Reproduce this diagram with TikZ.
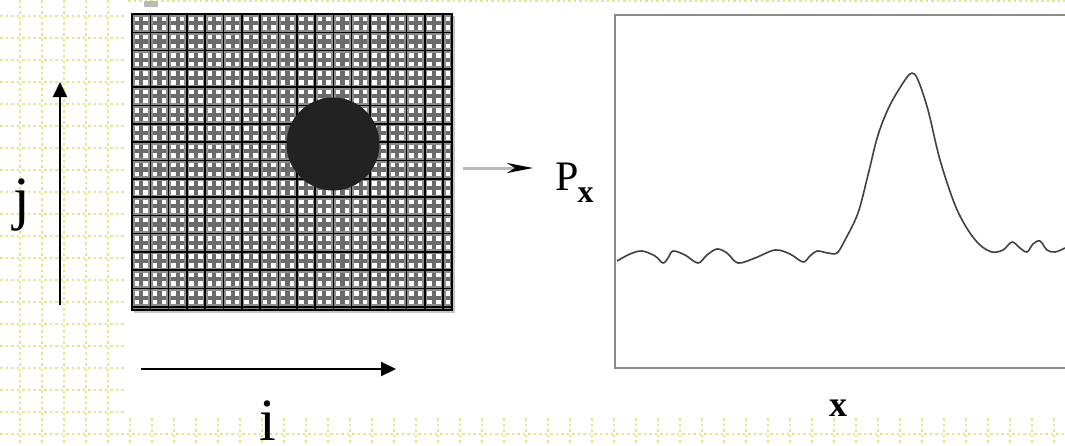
\documentclass[tikz,border=0pt]{standalone}
\usepackage{fontspec}
\setmainfont{Liberation Serif}
\usetikzlibrary{arrows.meta}
\definecolor{mDot}{HTML}{DCE98C}
\definecolor{mFrame}{HTML}{8C8C8C}
\definecolor{mBlob}{HTML}{222222}
\definecolor{mCurve}{HTML}{404040}
\newcommand{\bigletter}{\fontsize{60}{60}\selectfont}

\begin{document}
\begin{tikzpicture}[x=1pt, y=-1pt,
  dotline/.style={draw=mDot, line width=2.4pt, dash pattern=on 2.5pt off 3pt},
  axisarrow/.style={line width=2pt, -{Triangle[length=15pt, width=14pt]}},
  gridmid/.style={draw=black!58, line width=4.2pt},
  gridhalo/.style={draw=black!45, line width=5pt},
  gridline/.style={draw=black, line width=1.6pt}]
\useasboundingbox (0,0) rectangle (1065,445);

% dotted background
\foreach \x in {20,42,...,108} \draw[dotline] (\x,0) -- (\x,445);
\foreach \y in {16,38,...,412} \draw[dotline] (0,\y) -- (126,\y);
\draw[dotline] (0,434) -- (1065,434);
\draw[dotline] (128,0.8) -- (1065,0.8);
\foreach \x in {130,152,...,1064} \draw[dotline] (\x,418) -- (\x,445);

% scanned grid with the blob
\fill[gray!55, rounded corners=1pt] (144,1) rectangle (158,7);
\begin{scope}
\clip (132,14) rectangle (452,310);
\fill[white] (132,14) rectangle (452,310);
\foreach \k in {0,...,17} \draw[gridmid] ({141.15+18.3*\k},14) -- ++(0,296);
\foreach \k in {0,...,16} \draw[gridmid] (132,{23.15+18.3*\k}) -- ++(320,0);
\foreach \k in {0,...,17} \draw[gridhalo] ({132+18.3*\k},14) -- ++(0,296);
\foreach \k in {0,...,16} \draw[gridhalo] (132,{14+18.3*\k}) -- ++(320,0);
\foreach \k in {0,...,17} \draw[gridline] ({132+18.3*\k},14) -- ++(0,296);
\foreach \k in {0,...,16} \draw[gridline] (132,{14+18.3*\k}) -- ++(320,0);
\end{scope}
\draw[gray!45, line width=2pt] (454,16) -- (454,312) -- (134,312);
\draw[black, line width=1.5pt] (132,14) rectangle (452,310);
\fill[mBlob] (333,144) circle[radius=46.5pt];

% axes i and j
\coordinate (jfoot) at (60,305);
\coordinate (jtip) at (60,82);
\coordinate (ifoot) at (141,369);
\coordinate (itip) at (396,369);
\draw[axisarrow] (jfoot) -- (jtip);
\draw[axisarrow] (ifoot) -- (itip);
\node[font=\bigletter, anchor=base, inner sep=0pt] (jlabel) at (22,218) {j};
\node[font=\bigletter, anchor=base, inner sep=0pt] (ilabel) at (268,440) {i};

% projection
\node[anchor=base west, inner sep=0pt] (px) at (555,190)
  {{\fontsize{42}{42}\selectfont P}\kern-1pt\raisebox{-12pt}{\fontsize{32}{32}\selectfont\bfseries x}};
\coordinate (pxfrom) at (463,168);
\coordinate (pxto) at (533,168);
\draw[gray!55, line width=3pt, -{Stealth[length=26pt, width=10pt, inset=8pt, color=black]}] (pxfrom) -- (pxto);

% profile plot
\draw[mFrame, line width=2.5pt] (1065,15) -| (615,368) -- (1065,368);
\draw[mCurve, line width=1.6pt, line join=round] plot[smooth, tension=0.55] coordinates {
  (617,261) (630,254) (642,251) (655,256) (663,263) (668,258) (673,251) (685,255)
  (698,263) (707,255) (717,249) (727,253) (738,263) (755,258) (775,250) (790,254)
  (803,262) (810,256) (817,251) (828,253) (837,253) (845,240) (858,213) (868,175)
  (878,135) (890,105) (905,80) (912,73) (918,80) (928,110) (940,160) (955,205)
  (968,230) (980,245) (992,252) (1003,250) (1012,242) (1020,248) (1027,252)
  (1033,244) (1040,241) (1047,250) (1055,252) (1065,248)};
\node[font=\fontsize{36}{36}\selectfont\bfseries, anchor=base, inner sep=0pt] (xlabel) at (838,416) {x};
\end{tikzpicture}
\end{document}
